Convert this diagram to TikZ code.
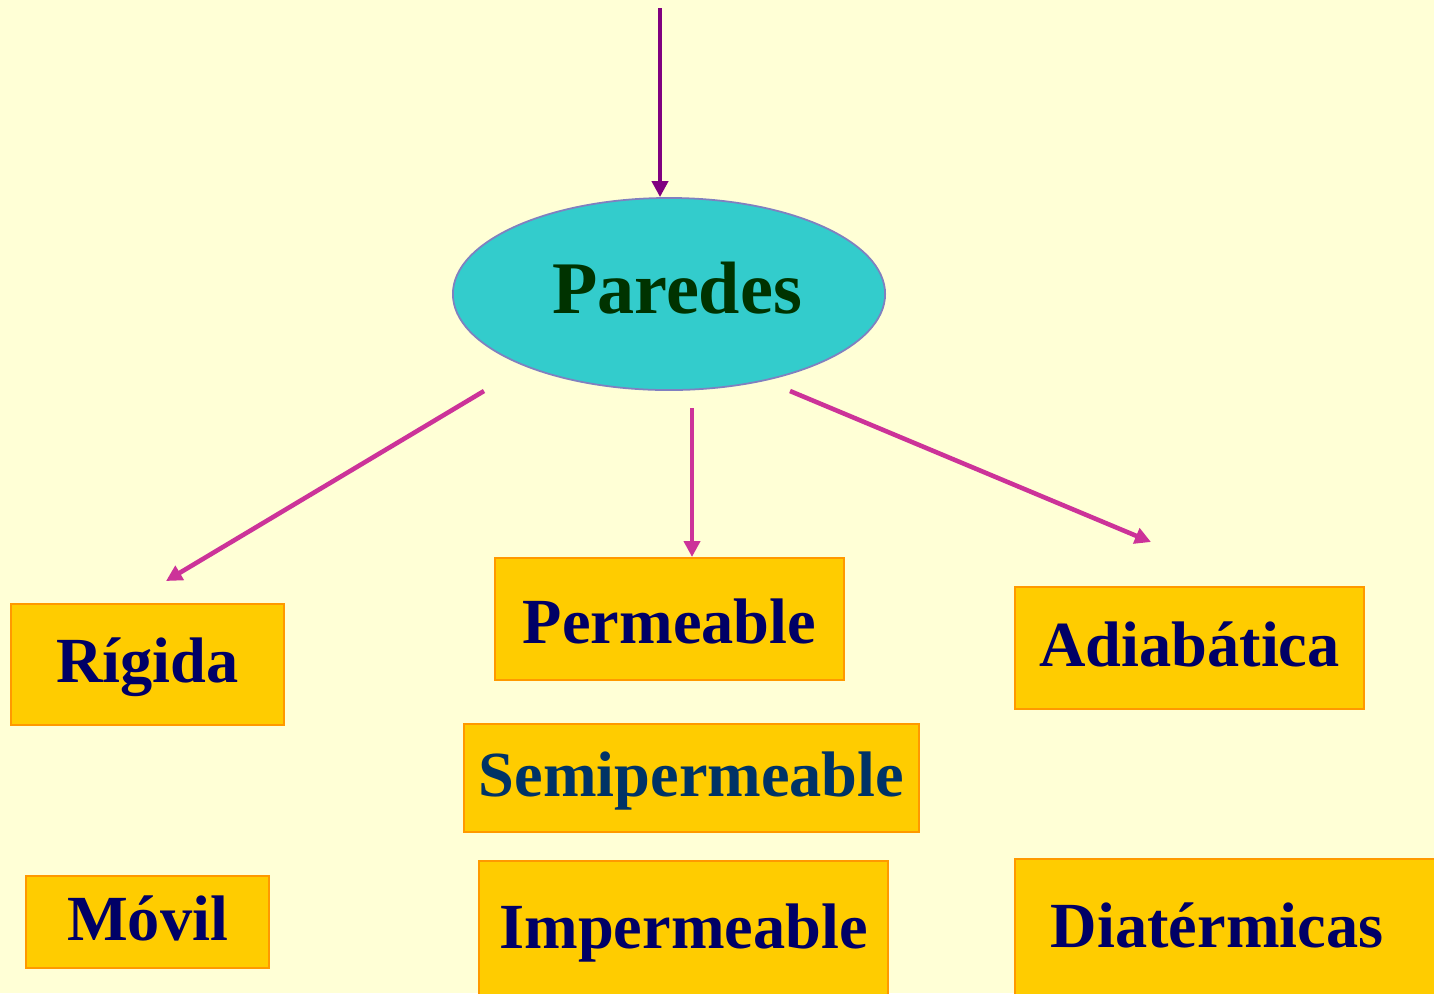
\documentclass[tikz,border=0pt]{standalone}
\usepackage{fontspec}
\setmainfont{Liberation Serif}
\usepackage{xcolor}
\usetikzlibrary{calc}
\usetikzlibrary{arrows.meta}
\usetikzlibrary{shapes.geometric}
\definecolor{fondocolour}{RGB}{255,255,214}
\definecolor{elipsecolour}{RGB}{51,204,204}
\definecolor{bordecolour}{RGB}{128,128,192}
\definecolor{cajacolour}{RGB}{255,204,0}
\definecolor{filocolour}{RGB}{255,153,0}
\definecolor{textocolour}{RGB}{0,0,102}
\definecolor{semicolour}{RGB}{0,51,102}
\definecolor{verdecolour}{RGB}{0,51,0}
\definecolor{moradocolour}{RGB}{128,0,128}
\definecolor{rosacolour}{RGB}{204,51,153}
\tikzset{
  caja/.style={draw=filocolour, line width=0.45pt, fill=cajacolour, inner sep=0pt,
    text=textocolour, font=\fontsize{18.3}{18.3}\selectfont\bfseries,
    text height=0.44cm, text depth=0.08cm},
  flecha/.style={line width=1.3pt, -{Triangle[length=0.16cm,width=0.16cm]}},
}
\newcommand{\ealcaja}[5]{\node[caja, minimum width=#3, minimum height=#4] (#1) at (#2) {#5};}

\begin{document}
\begin{tikzpicture}[x=0.01cm, y=-0.01cm]

\useasboundingbox (0,0) rectangle (1434,993);
\fill[fondocolour] (0,0) rectangle (1434,993);

% centro
\node[ellipse, draw=bordecolour, line width=0.5pt, fill=elipsecolour,
  minimum width=4.32cm, minimum height=1.92cm, inner sep=0pt,
  label={[xshift=0.08cm, yshift=0.06cm, text=verdecolour,
    font=\fontsize{21.1}{21.1}\selectfont\bfseries]center:Paredes}] (paredes) at (669,294) {};

% cajas
\ealcaja{rigida}{147.5,664.5}{2.73cm}{1.21cm}{Rígida}
\ealcaja{movil}{147.5,922}{2.43cm}{0.92cm}{Móvil}
\node[caja, text height=0.56cm, minimum width=3.49cm, minimum height=1.22cm] (permeable) at (669.5,619) {Permeable};
\node[caja, text=semicolour, minimum width=4.55cm, minimum height=1.08cm] (semiperm) at (691.5,778) {Semipermeable};
\ealcaja{imperm}{683.5,930.5}{4.09cm}{1.39cm}{Impermeable}
\ealcaja{adiabatica}{1189.5,648}{3.49cm}{1.22cm}{Adiabática}
\node[caja, text width=3.58cm, align=left, minimum width=4.30cm, minimum height=1.41cm] (diatermicas) at (1230,929.5) {Diatérmicas};

% flechas
\coordinate (entrada) at (660,8);
\draw[flecha, moradocolour] (entrada) -- (entrada |- paredes.north);

\coordinate (sal-rigida) at (484,391);
\coordinate (fin-rigida) at (166,581);
\coordinate (sal-perm) at (692,408);
\coordinate (fin-perm) at (692,557);
\coordinate (sal-adia) at (790,391);
\coordinate (fin-adia) at (1151,542);
\foreach \a/\b in {sal-rigida/fin-rigida, sal-perm/fin-perm, sal-adia/fin-adia}
  \draw[flecha, rosacolour] (\a) -- (\b);

\end{tikzpicture}
\end{document}
